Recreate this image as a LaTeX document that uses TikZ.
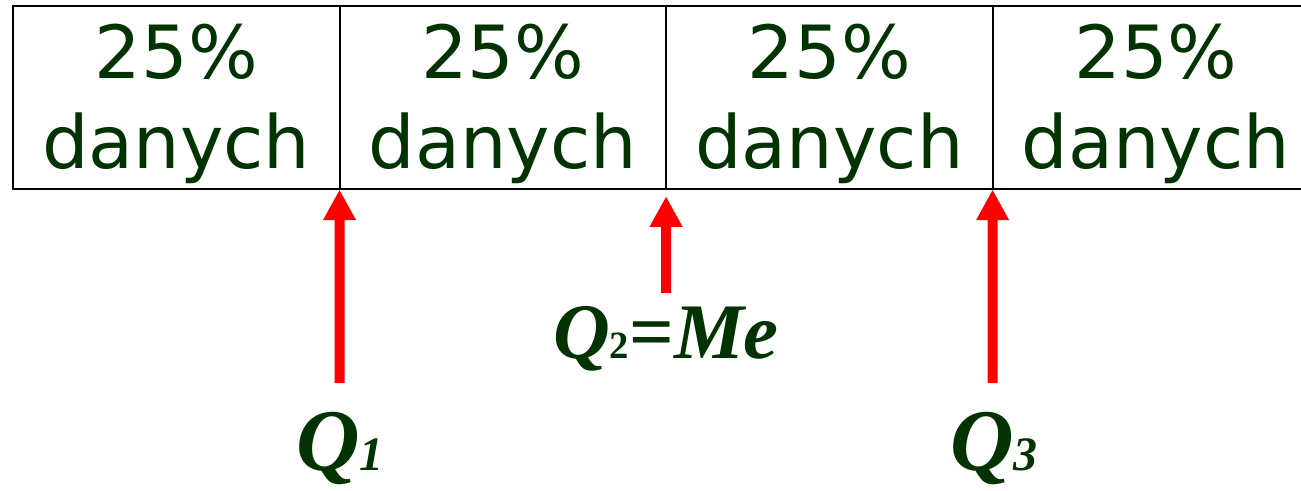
\documentclass[tikz,border=0pt]{standalone}
\usepackage{fontspec}
\setmainfont{Liberation Serif}
\newfontfamily\cellfont{DejaVu Sans}
\usepackage{xcolor}
\usetikzlibrary{arrows.meta,positioning}
\definecolor{qgreen}{HTML}{003300}
\definecolor{qred}{HTML}{FF0000}

\begin{document}
\begin{tikzpicture}[x=0.75pt,y=-0.75pt,>=Latex]

\tikzset{
cell/.style={
    draw=black,
    line width=1.5pt,
    minimum width=244.9pt,
    minimum height=137.25pt,
    inner sep=0pt,
    outer sep=0pt
},
celltext/.style={
    text=qgreen,
    align=center,
    font=\cellfont\fontsize{55}{67.5}\selectfont,
    inner sep=0pt
},
qlabel/.style={
    text=qgreen,
    anchor=base,
    inner sep=0pt,
    font=\bfseries\itshape
},
qarrow/.style={
    -{Triangle[length=23pt,width=23pt]},
    line width=7.5pt,
    color=qred
}
}

\useasboundingbox (0,0) rectangle (1301,491);

% four quarters
\node[cell] (c1) at (176.25,98) {};
\node[cell,right=0pt of c1] (c2) {};
\node[cell,right=0pt of c2] (c3) {};
\node[cell,right=0pt of c3] (c4) {};

\node[celltext] (t1) at ([yshift=-4.5pt]c1.center) {25\%\\danych};
\node[celltext] (t2) at ([yshift=-4.5pt]c2.center) {25\%\\danych};
\node[celltext] (t3) at ([yshift=-4.5pt]c3.center) {25\%\\danych};
\node[celltext] (t4) at ([yshift=-4.5pt]c4.center) {25\%\\danych};

% quartiles
\node[qlabel] (q1) at (340,470) {\fontsize{66}{66}\selectfont Q\fontsize{36}{36}\selectfont 1};
\node[qlabel] (q2) at (666,358) {\fontsize{59}{59}\selectfont Q{\fontsize{29}{29}\selectfont\upshape 2}{\upshape =}Me};
\node[qlabel] (q3) at (994,470) {\fontsize{66}{66}\selectfont Q\fontsize{36}{36}\selectfont 3};

\coordinate (a1) at (339.5,383);
\coordinate (a2) at (666,293);
\coordinate (a3) at (992.5,383);

\draw[qarrow] (a1) -- (c1.south east);
\draw[qarrow,shorten >=5pt] (a2) -- (c2.south east);
\draw[qarrow] (a3) -- (c3.south east);

\end{tikzpicture}
\end{document}
